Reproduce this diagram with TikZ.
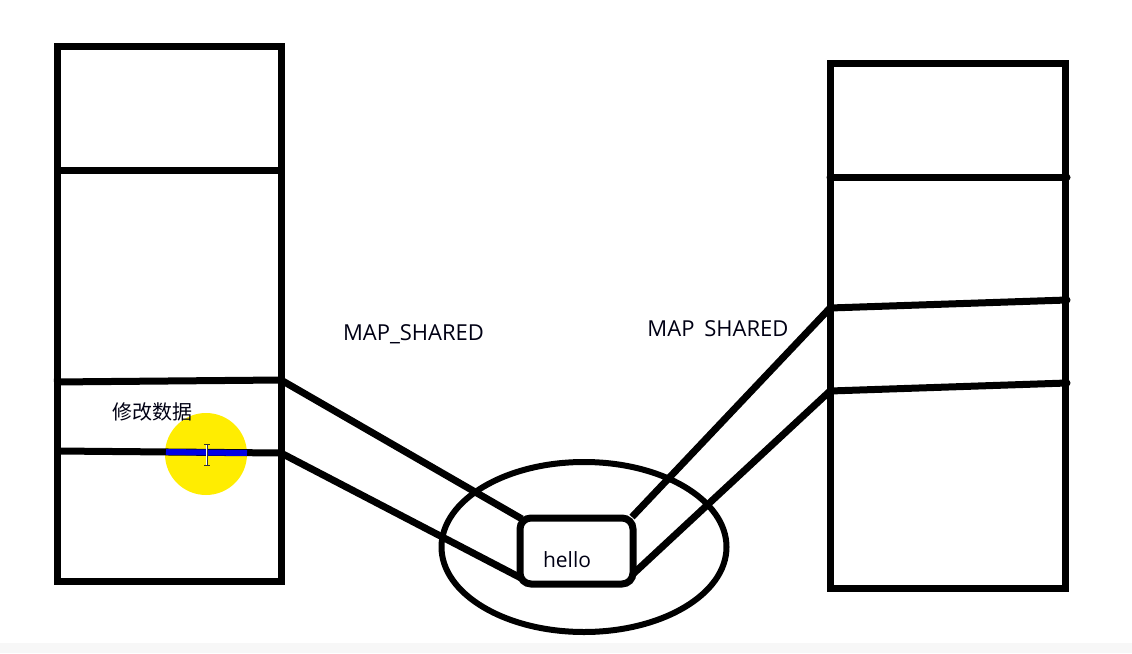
\documentclass[tikz,border=0pt]{standalone}
\usepackage{fontspec}
\setmainfont{Open Sans}
\newfontfamily\cjk{Noto Sans CJK SC}
\usetikzlibrary{shapes.geometric}
\begin{document}
\begin{tikzpicture}[x=1pt,y=-1pt,
  thick line/.style={line width=7pt, black},
  cell/.style={draw=black, line width=7pt},
  lbl/.style={inner sep=0pt, font=\fontsize{22}{26}\selectfont, text=black!92!blue}]
\useasboundingbox (0,0) rectangle (1132,653);
\fill[white] (0,0) rectangle (1132,653);
\fill[black!3] (0,643) rectangle (1132,653);
% left memory block
\draw[cell] (57,46) rectangle (281,581);
\coordinate (l0a) at (57,170); \coordinate (l0b) at (281,170);
\coordinate (l1a) at (54,382); \coordinate (l1b) at (281,380);
\coordinate (l2a) at (57,451); \coordinate (l2b) at (281,453);
\draw[thick line] (l0a) -- (l0b);
\draw[thick line] (l1a) -- (l1b);
% highlight
\fill[yellow!95!orange] (206,454) circle (41);
\draw[thick line] (l2a) -- (l2b);
\coordinate (ba) at (166,452); \coordinate (bb) at (247,453);
\draw[line width=6pt, blue!90!black] (ba) -- (bb);
% I-beam cursor
\coordinate (ia) at (207,444); \coordinate (ib) at (207,465);
\draw[white, line width=2.4pt] (ia) -- (ib);
\draw[black!80, line width=1pt] (ia) -- (ib);
\draw[black!80, line width=1pt] (204,444) -- (210,444) (204,465) -- (210,465);
% right memory block
\draw[cell] (830,63) rectangle (1065,588);
\coordinate (r0a) at (830,177); \coordinate (r0b) at (1067,177);
\coordinate (r1a) at (830,308); \coordinate (r1b) at (1067,300);
\coordinate (r2a) at (830,391); \coordinate (r2b) at (1067,383);
\draw[thick line, line cap=round] (r0a) -- (r0b);
\draw[thick line, line cap=round] (r1a) -- (r1b);
\draw[thick line, line cap=round] (r2a) -- (r2b);
% shared region
\node[draw, line width=6pt, ellipse, minimum width=285pt, minimum height=170pt, inner sep=0pt] (ell) at (584,547) {};
\node[draw, fill=white, line width=7pt, rounded corners=11pt, minimum width=113pt, minimum height=66pt, inner sep=0pt] (hello) at (576.5,551) {};
\node[lbl, font=\fontsize{21}{25}\selectfont] (hellot) at (567,560) {hello};
\coordinate (htl) at (522,519); \coordinate (hbl) at (521,578);
\coordinate (htr) at (632,517); \coordinate (hbr) at (633,574);
\draw[thick line] (l1b) -- (htl);
\draw[thick line] (l2b) -- (hbl);
\draw[thick line] (htr) -- (r1a);
\draw[thick line] (hbr) -- (r2a);
% labels
\node[lbl] (m1) at (413.5,334) {MAP\_SHARED};
\node[lbl] (m2) at (718,329) {MAP\hspace{0.45em}SHARED};
\node[lbl, font=\cjk\fontsize{20}{24}\selectfont] (mod) at (152,412) {修改数据};
\end{tikzpicture}
\end{document}
